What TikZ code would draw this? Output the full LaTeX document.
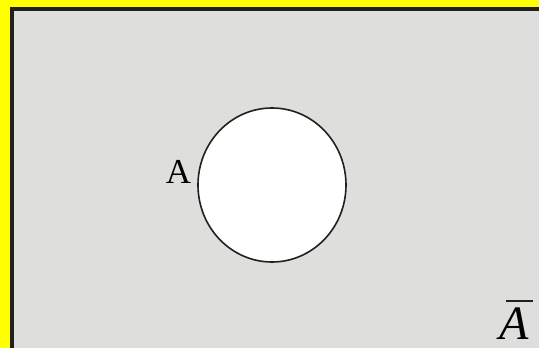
\documentclass[tikz,border=0pt]{standalone}
\usepackage{fontspec}
\setmainfont{Liberation Serif}
\usetikzlibrary{shapes.geometric}
\definecolor{bggrey}{HTML}{DEDEDC}
\definecolor{darkline}{HTML}{231F1C}
\definecolor{frameyellow}{HTML}{FFFF00}
\begin{document}
\begin{tikzpicture}[x=1pt,y=-1pt,
  setlabel/.style={inner sep=0pt, anchor=base, text=black, text depth=0pt}]
\useasboundingbox (0,0) rectangle (539,348);
\fill[frameyellow] (0,0) rectangle (539,348);
\fill[darkline] (10,7) rectangle (539,348);
\fill[bggrey] (14,11) rectangle (539,348);
\node[draw=darkline, line width=1.6pt, fill=white, ellipse, minimum width=148pt, minimum height=154pt, inner sep=0pt] (setA) at (272,185) {};
\node[setlabel] (labA) at (178.5,183) {\fontsize{35}{35}\selectfont A};
\node[setlabel] (labNotA) at (514,339) {\fontsize{48}{48}\selectfont\itshape A};
\coordinate (barL) at (506,301);
\coordinate (barR) at (533,301);
\draw[darkline, line width=2.2pt] (barL) -- (barR);
\end{tikzpicture}
\end{document}
